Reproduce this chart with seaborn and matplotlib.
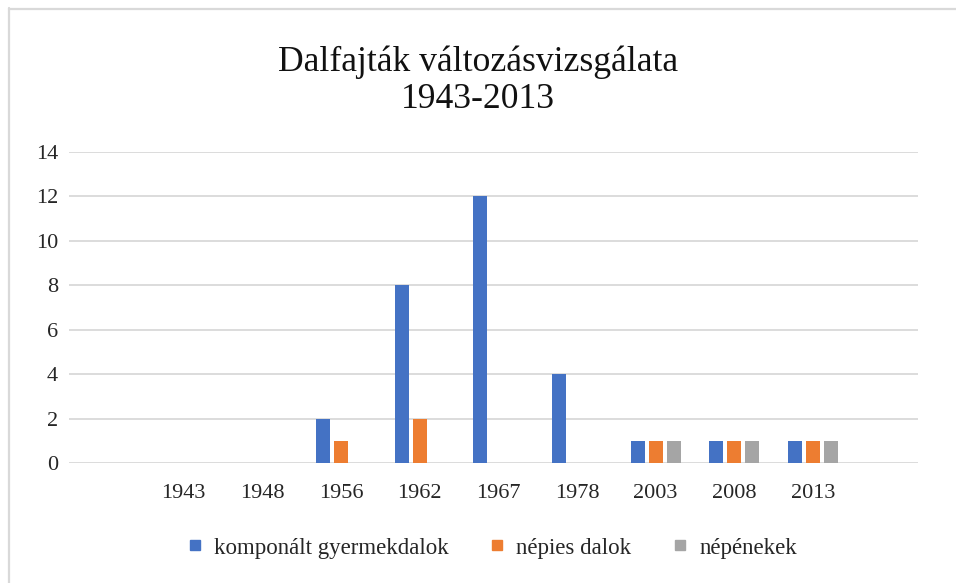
import matplotlib
matplotlib.use("Agg")
import matplotlib.pyplot as plt
import seaborn as sns
import pandas as pd
from matplotlib.lines import Line2D

years = ["1943", "1948", "1956", "1962", "1967", "1978", "2003", "2008", "2013"]
komponalt = [0, 0, 2, 8, 12, 4, 1, 1, 1]
nepies = [0, 0, 1, 2, 0, 0, 1, 1, 1]
nepenekek = [0, 0, 0, 0, 0, 0, 1, 1, 1]
series_names = ["komponált gyermekdalok", "népies dalok", "népénekek"]
colors = ["#4472C4", "#ED7D31", "#A5A5A5"]
title = "Dalfajták változásvizsgálata\n1943-2013"

rows = []
for name, vals in zip(series_names, [komponalt, nepies, nepenekek]):
    for y, v in zip(years, vals):
        rows.append({"Év": y, "Érték": v, "Sorozat": name})
df = pd.DataFrame(rows)

sns.set_theme(style="white")
plt.rcParams["font.family"] = ["Liberation Serif", "DejaVu Serif"]

W, H = 956, 583
fig = plt.figure(figsize=(W / 100, H / 100), dpi=100)
ax = fig.add_axes([69 / W, 1 - 463 / H, (918 - 69) / W, (463 - 152) / H])

sns.barplot(data=df, x="Év", y="Érték", hue="Sorozat", order=years,
            hue_order=series_names, palette=colors, saturation=1,
            width=0.686, gap=0.22, linewidth=0, ax=ax, legend=False)

ax.set_ylim(0, 14)
ax.set_yticks(range(0, 15, 2))
ax.set_xlim(-1.455, 9.334)
ax.grid(axis="y", color="#D9D9D9", linewidth=1.3)
ax.set_axisbelow(True)
for s in ax.spines.values():
    s.set_visible(False)
ax.set_xlabel("")
ax.set_ylabel("")
ax.tick_params(axis="both", length=0, labelsize=16, colors="#262626")
ax.tick_params(axis="y", pad=8)
ax.tick_params(axis="x", pad=15)

fig.text(0.5, 1 - 81 / H, title, ha="center", va="center", fontsize=25.7,
         color="#111111", linespacing=1.15)

handles = [Line2D([], [], marker="s", linestyle="none", markersize=7,
                  markerfacecolor=c, markeredgecolor=c) for c in colors]
fig.legend(handles, series_names, loc="center",
           bbox_to_anchor=(0.5 + 12 / W, 1 - 548 / H),
           ncol=3, frameon=False, fontsize=16.5, handletextpad=0.35,
           columnspacing=1.6, handlelength=1.0)

fig.add_artist(Line2D([8.5 / W, 8.5 / W], [0, 1 - 8 / H], color="#D9D9D9",
                      linewidth=1.6, transform=fig.transFigure))
fig.add_artist(Line2D([8.5 / W, 1], [1 - 8.5 / H, 1 - 8.5 / H], color="#D9D9D9",
                      linewidth=1.6, transform=fig.transFigure))

fig.savefig("out.png", dpi=100)
